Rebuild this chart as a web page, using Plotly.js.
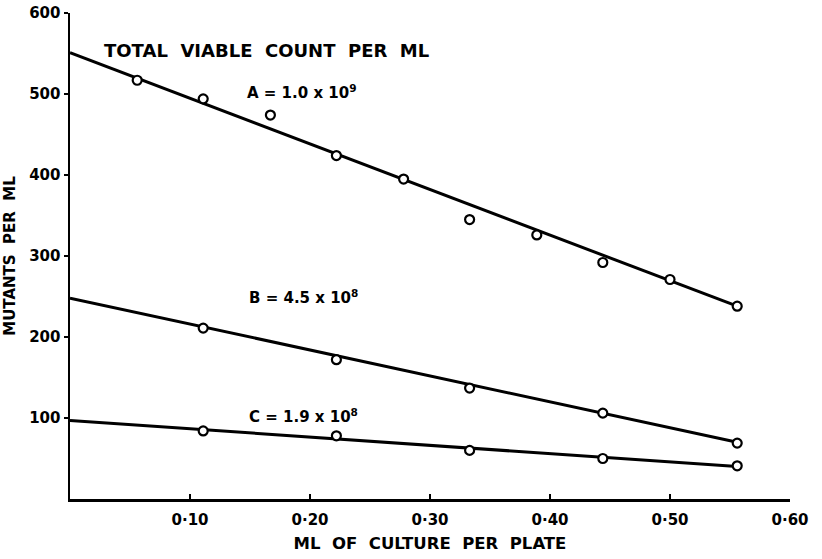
<!DOCTYPE html>
<html>
<head>
<meta charset="utf-8">
<script src="https://cdn.plot.ly/plotly-3.0.1.min.js"></script>
<style>html,body{margin:0;padding:0;background:#fff;}#chart{width:822px;height:559px;}</style>
</head>
<body>
<div id="chart"></div>
<script>
// Data
const xA = [0.056, 0.111, 0.167, 0.222, 0.278, 0.333, 0.389, 0.444, 0.5, 0.556];
const yA = [517, 494, 474, 424, 395, 345, 326, 292, 271, 238];
const xBC = [0.111, 0.222, 0.333, 0.444, 0.556];
const yB = [211, 172, 137, 106, 69];
const yC = [84, 78, 60, 50, 41];
// Fitted (hand-drawn) lines: endpoints
const lineX = [0, 0.556];
const lineA = [551, 238];
const lineB = [248, 70];
const lineC = [97, 40];
const xTickVals = [0.1, 0.2, 0.3, 0.4, 0.5, 0.6];
const xTickText = ['0·10', '0·20', '0·30', '0·40', '0·50', '0·60'];
const yTickVals = [100, 200, 300, 400, 500, 600];

const FONT = 'DejaVu Sans, Liberation Sans, sans-serif';
const lineStyle = {color: '#000', width: 3};
const markerStyle = {symbol: 'circle', size: 9, color: '#fff', line: {color: '#000', width: 2.2}};

const traces = [
  {x: lineX, y: lineA, mode: 'lines', line: lineStyle, hoverinfo: 'skip'},
  {x: lineX, y: lineB, mode: 'lines', line: lineStyle, hoverinfo: 'skip'},
  {x: lineX, y: lineC, mode: 'lines', line: lineStyle, hoverinfo: 'skip'},
  {x: xA, y: yA, mode: 'markers', marker: markerStyle, name: 'A'},
  {x: xBC, y: yB, mode: 'markers', marker: markerStyle, name: 'B'},
  {x: xBC, y: yC, mode: 'markers', marker: markerStyle, name: 'C'}
];

const annFont = {family: FONT, size: 15, color: '#000', weight: 'bold'};
const layout = {
  width: 822, height: 559,
  margin: {l: 70, r: 32, t: 13, b: 60},
  paper_bgcolor: '#fff', plot_bgcolor: '#fff',
  showlegend: false,
  font: {family: FONT, color: '#000', weight: 'bold'},
  xaxis: {
    range: [0, 0.6], showgrid: false, zeroline: false,
    showline: true, linecolor: '#000', linewidth: 2.5,
    tickmode: 'array', tickvals: xTickVals, ticktext: xTickText,
    ticks: 'inside', ticklen: 5, tickwidth: 2, tickcolor: '#000',
    ticklabelstandoff: 5,
    tickfont: {family: FONT, size: 15, weight: 'bold'},
    title: {text: 'ML  OF  CULTURE  PER  PLATE', font: {family: FONT, size: 16.5, weight: 'bold'}, standoff: 10}
  },
  yaxis: {
    range: [0, 600], showgrid: false, zeroline: false,
    showline: true, linecolor: '#000', linewidth: 2.5,
    tickmode: 'array', tickvals: yTickVals,
    ticks: 'outside', ticklen: 4, tickwidth: 2, tickcolor: '#000',
    tickfont: {family: FONT, size: 15, weight: 'bold'},
    title: {text: 'MUTANTS  PER  ML', font: {family: FONT, size: 15, weight: 'bold'}, standoff: 10}
  },
  annotations: [
    {x: 0.027, y: 554, xref: 'x', yref: 'y', xanchor: 'left', yanchor: 'middle', showarrow: false,
     text: 'TOTAL  VIABLE  COUNT  PER  ML', font: {family: FONT, size: 18, color: '#000', weight: 'bold'}},
    {x: 0.146, y: 503, xref: 'x', yref: 'y', xanchor: 'left', yanchor: 'middle', showarrow: false,
     text: 'A = 1.0 x 10<sup>9</sup>', font: annFont},
    {x: 0.1475, y: 250, xref: 'x', yref: 'y', xanchor: 'left', yanchor: 'middle', showarrow: false,
     text: 'B = 4.5 x 10<sup>8</sup>', font: annFont},
    {x: 0.1475, y: 102, xref: 'x', yref: 'y', xanchor: 'left', yanchor: 'middle', showarrow: false,
     text: 'C = 1.9 x 10<sup>8</sup>', font: annFont}
  ]
};

Plotly.newPlot('chart', traces, layout, {displayModeBar: false, staticPlot: true});
</script>
</body>
</html>
